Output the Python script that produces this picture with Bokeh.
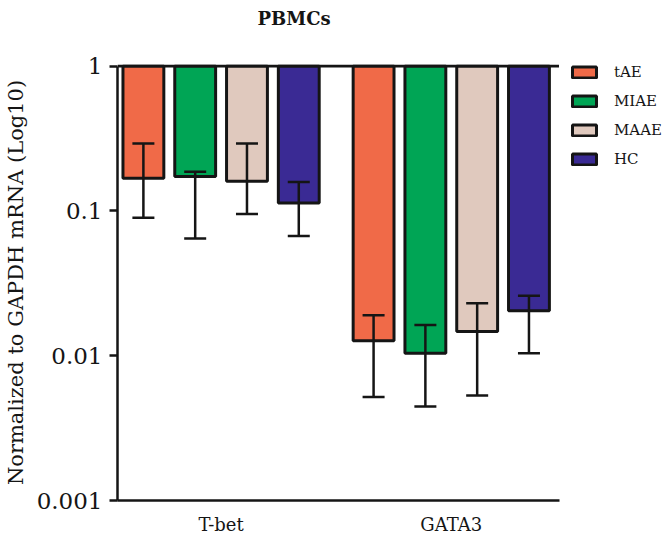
from bokeh.plotting import figure
from bokeh.models import (Range1d, FixedTicker, NumeralTickFormatter, Whisker, TeeHead,
                          ColumnDataSource, Legend, LegendItem, LinearAxis, Title)
from bokeh.embed import file_html
from bokeh.resources import INLINE

# ---------------- data ----------------
groups = ["T-bet", "GATA3"]
series = ["tAE", "MIAE", "MAAE", "HC"]
colors = ["#F06A48", "#00A555", "#E0C9BE", "#3A2A94"]

# mean values (per series, for [T-bet, GATA3])
tAE_mean = [0.168, 0.0127]
MIAE_mean = [0.173, 0.0104]
MAAE_mean = [0.160, 0.0147]
HC_mean = [0.1135, 0.0204]

# error bar upper ends
tAE_upper = [0.292, 0.0190]
MIAE_upper = [0.186, 0.0163]
MAAE_upper = [0.292, 0.0230]
HC_upper = [0.158, 0.0259]

# error bar lower ends
tAE_lower = [0.0896, 0.00518]
MIAE_lower = [0.0645, 0.00445]
MAAE_lower = [0.095, 0.00532]
HC_lower = [0.067, 0.0104]

means = [tAE_mean, MIAE_mean, MAAE_mean, HC_mean]
uppers = [tAE_upper, MIAE_upper, MAAE_upper, HC_upper]
lowers = [tAE_lower, MIAE_lower, MAAE_lower, HC_lower]

y_ticks = [0.001, 0.01, 0.1, 1]

FONT = "DejaVu Serif"
INK = "#151515"

# x extents: axis part and extra room on the right for the legend
X_START = 0.05
X_AXIS_END = 1.968
X_END = 2.435

# ---------------- figure ----------------
p = figure(width=666, height=537,
           x_range=Range1d(X_START, X_END), y_range=Range1d(0.001, 1.025),
           y_axis_type="log", output_backend="svg", toolbar_location=None,
           min_border_left=115, min_border_top=64, min_border_bottom=35,
           min_border_right=0)
p.title_location = None
p.outline_line_color = None
p.xgrid.visible = False
p.ygrid.visible = False

step = 0.225
bar_w = 0.1775
renderers = []
for j, name in enumerate(series):
    xs = [g + 0.5 + (j - 1.5) * step for g in range(len(groups))]
    src = ColumnDataSource(dict(x=xs, top=[1.0] * len(groups), bottom=means[j],
                                upper=uppers[j], lower=lowers[j]))
    r = p.vbar(x="x", width=bar_w, top="top", bottom="bottom", source=src,
               fill_color=colors[j], line_color=INK, line_width=3)
    renderers.append(r)
    w = Whisker(base="x", upper="upper", lower="lower", source=src, dimension="height",
                level="overlay", line_color=INK, line_width=2.5,
                upper_head=TeeHead(size=22, line_width=2.5, line_color=INK),
                lower_head=TeeHead(size=22, line_width=2.5, line_color=INK))
    p.add_layout(w)

# baseline at 1 (bars hang down from it)
p.segment(x0=[X_START], x1=[X_AXIS_END], y0=[1.0], y1=[1.0], line_color=INK, line_width=3)

# ---------------- axes ----------------
ya = p.yaxis[0]
ya.ticker = FixedTicker(ticks=y_ticks)
ya.formatter = NumeralTickFormatter(format="0.[000]")
ya.bounds = (0.001, 1)
ya.minor_tick_line_color = None
ya.major_tick_in = 0
ya.major_tick_out = 8
ya.major_tick_line_width = 2.5
ya.major_tick_line_color = INK
ya.axis_line_width = 2.5
ya.axis_line_color = INK
ya.major_label_text_font = FONT
ya.major_label_text_font_size = "23px"
ya.major_label_text_color = INK
ya.major_label_standoff = 7
ya.axis_label = "Normalized to GAPDH mRNA (Log10)"
ya.axis_label_text_font = FONT
ya.axis_label_text_font_size = "21px"
ya.axis_label_text_font_style = "normal"
ya.axis_label_text_color = INK
ya.axis_label_standoff = 6

xa = p.xaxis[0]
xa.ticker = FixedTicker(ticks=[g + 0.5 for g in range(len(groups))])
xa.major_label_overrides = {g + 0.5: groups[g] for g in range(len(groups))}
xa.bounds = (X_START, X_AXIS_END)
xa.major_tick_in = 0
xa.major_tick_out = 0
xa.minor_tick_line_color = None
xa.axis_line_width = 2.5
xa.axis_line_color = INK
xa.major_label_text_font = FONT
xa.major_label_text_font_size = "18px"
xa.major_label_text_color = INK
xa.major_label_standoff = 13

# white (invisible) spacer axis right above the frame, pushing the title up
spacer = LinearAxis(ticker=FixedTicker(ticks=[X_END]), axis_line_color=None,
                    major_tick_line_color="white", minor_tick_line_color=None,
                    major_tick_in=0, major_tick_out=34, minor_tick_out=0,
                    major_label_standoff=0, major_label_overrides={X_END: ""},
                    major_label_text_font_size="0px")
p.add_layout(spacer, "above")

# ---------------- title (outer element of the top panel) ----------------
title = Title(text="PBMCs", text_font=FONT, text_font_size="18px", text_font_style="bold",
              text_color=INK, align="left", vertical_align="top", standoff=0, offset=140)
p.add_layout(title, "above")

# ---------------- legend ----------------
legend = Legend(items=[LegendItem(label=series[j], renderers=[renderers[j]]) for j in range(len(series))],
                location=(452, 332), orientation="vertical",
                glyph_width=30, glyph_height=14, label_height=18, label_width=20,
                label_standoff=15, spacing=11,
                padding=0, margin=0, border_line_color=None, background_fill_alpha=0,
                label_text_font=FONT, label_text_font_size="15px", label_text_color=INK)
p.add_layout(legend, "center")

open("out.html", "w").write(file_html(p, INLINE))
